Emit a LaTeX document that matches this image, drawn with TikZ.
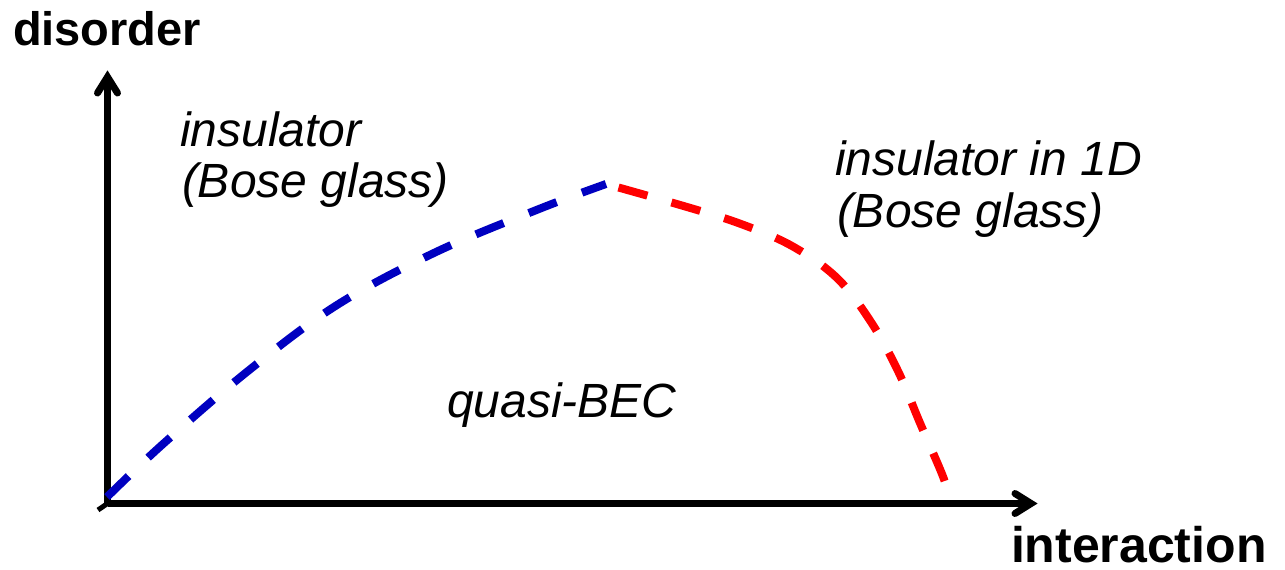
\documentclass[tikz,border=0pt]{standalone}
\usepackage{fontspec}
\setmainfont{Liberation Sans}
\definecolor{bndblue}{RGB}{0,0,192}
\definecolor{bndred}{RGB}{255,0,0}
\begin{document}
\begin{tikzpicture}[x=1pt,y=-1pt,
  axisline/.style={line width=7pt, draw=black},
  barb/.style={line width=7pt, draw=black, line cap=round, line join=miter, miter limit=10},
  axislabel/.style={anchor=base west, inner sep=0pt, outer sep=0pt},
  region/.style={font=\fontsize{48}{51}\itshape\selectfont, anchor=base west, inner sep=0pt, outer sep=0pt},
  bluebnd/.style={draw=bndblue, line width=8pt, dash pattern=on 30pt off 27pt},
  redbnd/.style={draw=bndred, line width=8pt, dash pattern=on 30pt off 25pt, dash phase=42pt}
]
\useasboundingbox (0,0) rectangle (1285,570);
% axes
\coordinate (O) at (107.5,503.5);
\coordinate (ytip) at (107.5,77);
\coordinate (xtip) at (1031,503.5);
\coordinate (stub) at (98,510);
\draw[axisline] (O) -- (ytip);
\draw[axisline] (O) -- (xtip);
\draw[barb] (ytip) ++(-10,16) -- (ytip) -- ++(10,16);
\draw[barb] (xtip) ++(-16,-10) -- (xtip) -- ++(-16,10);
\draw[line width=5pt] (O) -- (stub);
% labels
\node[axislabel, font=\fontsize{47}{50}\bfseries\selectfont] (dis) at (13,45) {disorder};
\node[axislabel, font=\fontsize{50}{53}\bfseries\selectfont] (int) at (1011,562) {interaction};
\node[region] (ins1) at (180,146) {insulator};
\node[region] (bg1) at (182,197) {(Bose glass)};
\node[region] (ins2) at (835,175) {insulator in 1D};
\node[region] (bg2) at (837,227) {(Bose glass)};
\node[region] (qb) at (447,417) {quasi-BEC};
% phase boundaries
\coordinate (peak) at (606,184);
\draw[bluebnd] plot[smooth, tension=0.6] coordinates {(107,497) (163,444) (248,371) (337,305) (436,252) (539,209) (606,184)};
\draw[redbnd] plot[smooth, tension=0.6] coordinates {(606,184) (687,207) (741,224) (792,246) (837,278) (871,322) (898,371) (920,423) (942,474) (948,493)};
\end{tikzpicture}
\end{document}
